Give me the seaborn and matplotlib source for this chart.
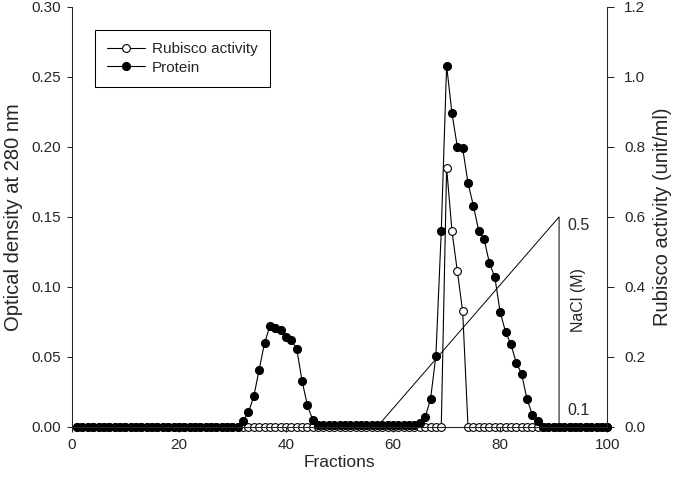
import matplotlib
matplotlib.use("Agg")
import matplotlib.pyplot as plt
import seaborn as sns
from matplotlib.ticker import FormatStrFormatter

# ======================
# 数据
# ======================

fractions = list(range(1, 101))

# 蛋白质 OD280（左轴）
protein = [
    0, 0, 0, 0, 0, 0, 0, 0, 0, 0,
    0, 0, 0, 0, 0, 0, 0, 0, 0, 0,
    0, 0, 0, 0, 0, 0, 0, 0, 0, 0,
    0, 0.0045, 0.0105, 0.022, 0.041, 0.060, 0.072, 0.071, 0.069, 0.064,
    0.062, 0.056, 0.033, 0.0155, 0.005, 0.0015, 0.0015, 0.0015, 0.0015, 0.0015,
    0.0015, 0.0015, 0.0015, 0.0015, 0.0015, 0.0015, 0.0015, 0.0015, 0.0015, 0.0015,
    0.0015, 0.0015, 0.0015, 0.0015, 0.003, 0.007, 0.020, 0.051, 0.140, 0.258,
    0.224, 0.200, 0.199, 0.174, 0.158, 0.140, 0.134, 0.117, 0.107, 0.082,
    0.068, 0.059, 0.046, 0.038, 0.020, 0.0088, 0.004, 0, 0, 0,
    0, 0, 0, 0, 0, 0, 0, 0, 0, 0,
]

# Rubisco 活性（右轴）
rubisco = [
    0, 0, 0, 0, 0, 0, 0, 0, 0, 0,
    0, 0, 0, 0, 0, 0, 0, 0, 0, 0,
    0, 0, 0, 0, 0, 0, 0, 0, 0, 0,
    0, 0, 0, 0, 0, 0, 0, 0, 0, 0,
    0, 0, 0, 0, 0, 0, 0, 0, 0, 0,
    0, 0, 0, 0, 0, 0, 0, 0, 0, 0,
    0, 0, 0, 0, 0, 0, 0, 0, 0, 0.74,
    0.56, 0.445, 0.33, 0, 0, 0, 0, 0, 0, 0,
    0, 0, 0, 0, 0, 0, 0, 0, 0, 0,
    0, 0, 0, 0, 0, 0, 0, 0, 0, 0,
]

# NaCl 梯度线（画在左轴坐标上）
nacl_x = [57, 91, 91]
nacl_y = [0, 0.15, 0]

# ======================
# 画图
# ======================

sns.set_style("ticks")
plt.rcParams["font.family"] = ["Liberation Sans", "DejaVu Sans"]

fig, ax = plt.subplots(figsize=(6.77, 4.93), dpi=100)
fig.subplots_adjust(left=0.106, right=0.897, bottom=0.134, top=0.986)
ax2 = ax.twinx()

# 左轴放在上层，让实心点盖住基线上的空心点
ax.set_zorder(ax2.get_zorder() + 1)
ax.patch.set_visible(False)

sns.lineplot(x=fractions, y=rubisco, ax=ax2, color="black", linewidth=0.8,
             marker="o", markersize=5.6, markerfacecolor="white",
             markeredgecolor="black", markeredgewidth=0.8, clip_on=False,
             label="Rubisco activity", legend=False)

sns.lineplot(x=fractions, y=protein, ax=ax, color="black", linewidth=0.8,
             marker="o", markersize=5.8, markerfacecolor="black",
             markeredgecolor="black", clip_on=False,
             label="Protein", legend=False)

ax.plot(nacl_x, nacl_y, color="black", linewidth=0.7)
ax.text(92.5, 0.1436, "0.5", fontsize=11.5, va="center", ha="left")
ax.text(92.5, 0.012, "0.1", fontsize=11.5, va="center", ha="left")
ax.text(94.6, 0.0907, "NaCl (M)", fontsize=11.5, va="center", ha="center", rotation=90)

ax.set_xlim(0, 100)
ax.set_ylim(0, 0.30)
ax2.set_ylim(0, 1.2)
ax.set_xticks([0, 20, 40, 60, 80, 100])
ax.set_yticks([0, 0.05, 0.10, 0.15, 0.20, 0.25, 0.30])
ax2.set_yticks([0, 0.2, 0.4, 0.6, 0.8, 1.0, 1.2])
ax.yaxis.set_major_formatter(FormatStrFormatter("%.2f"))
ax2.yaxis.set_major_formatter(FormatStrFormatter("%.1f"))

for a in (ax, ax2):
    a.spines["top"].set_visible(False)
    for s in a.spines.values():
        s.set_linewidth(0.75)
ax2.spines["left"].set_visible(False)
ax.tick_params(direction="out", length=3.6, width=0.75, labelsize=11, pad=4.5)
ax2.tick_params(direction="out", length=5, width=0.75, labelsize=11, pad=7)

ax.set_xlabel("Fractions", fontsize=12.5, labelpad=2)
ax.set_ylabel("Optical density at 280 nm", fontsize=14.5, labelpad=6)
ax2.set_ylabel("Rubisco activity (unit/ml)", fontsize=14.5, labelpad=6)

h1, l1 = ax2.get_legend_handles_labels()
h2, l2 = ax.get_legend_handles_labels()
leg = ax.legend(h1 + h2, l1 + l2, loc="upper left", bbox_to_anchor=(0.043, 0.945),
                fontsize=11, frameon=True, fancybox=False, edgecolor="black",
                framealpha=1, handlelength=2.5, handletextpad=0.45,
                borderpad=0.8, labelspacing=0.3, borderaxespad=0)
leg.get_frame().set_linewidth(0.75)

plt.savefig("out.png", dpi=100)
